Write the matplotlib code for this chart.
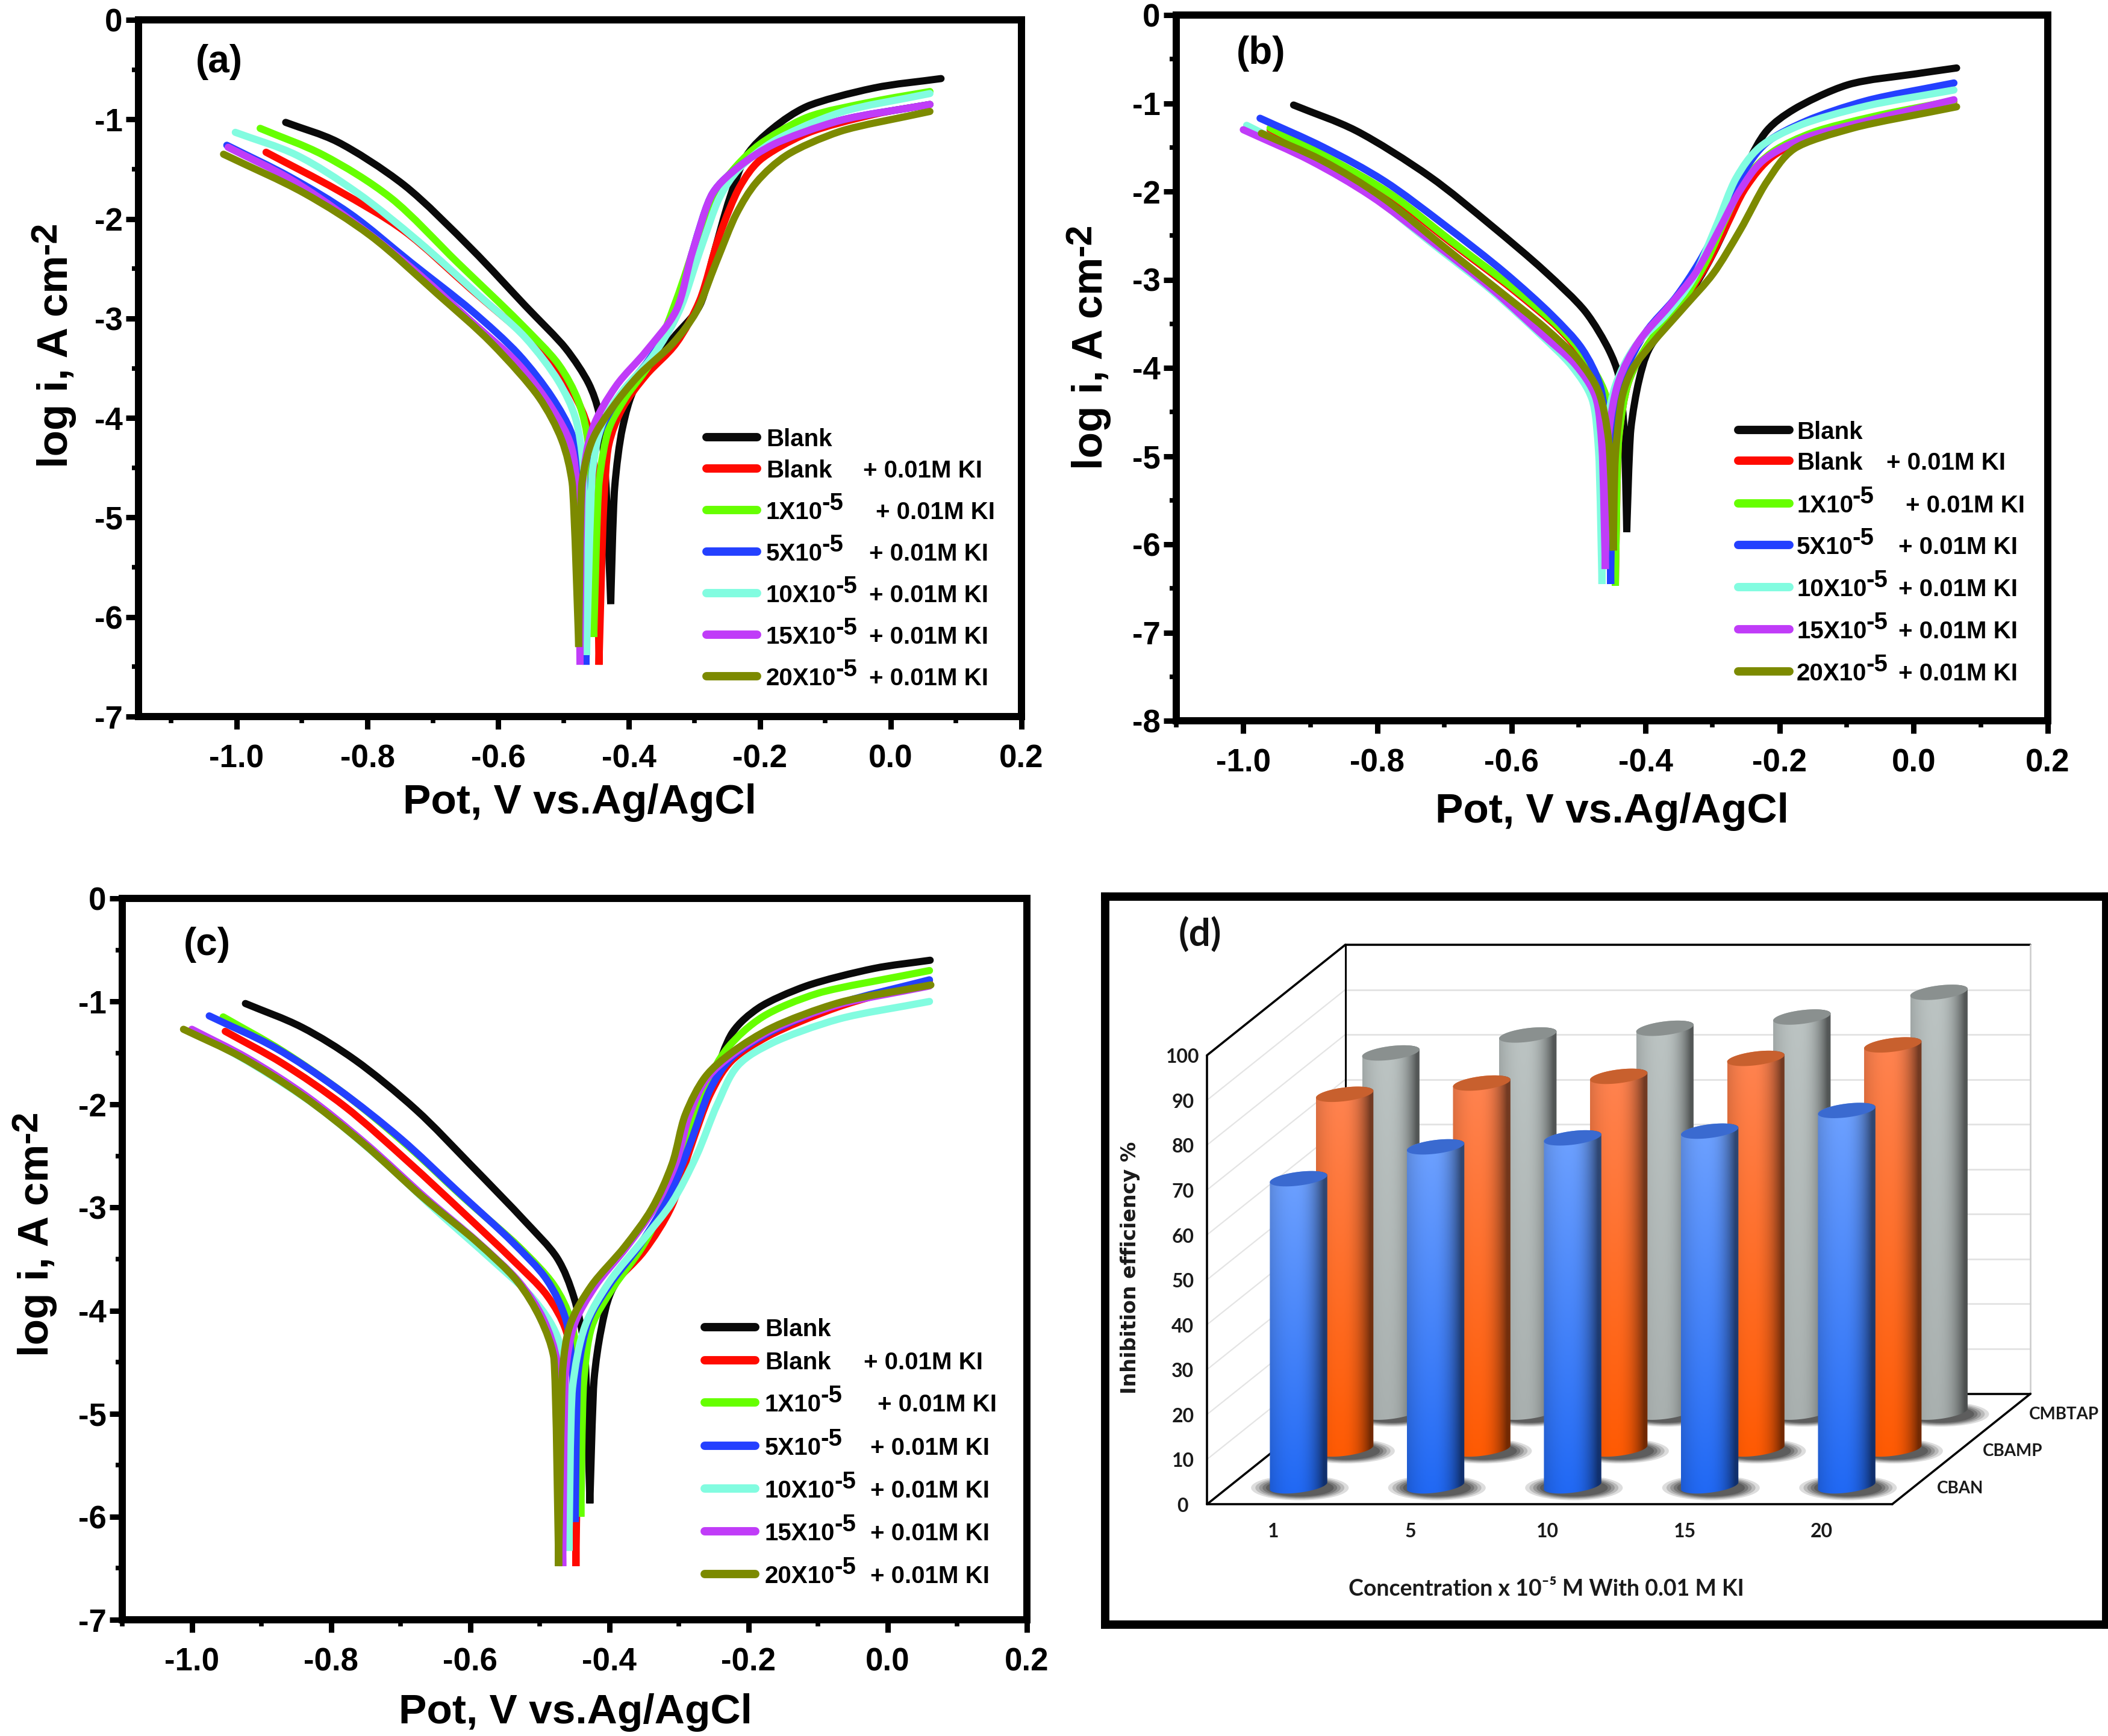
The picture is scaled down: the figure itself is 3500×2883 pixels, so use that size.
# -*- coding: utf-8 -*-
# Tafel polarisation plots (a)(b)(c) and inhibition efficiency cylinders (d)
import matplotlib
matplotlib.use('Agg')
import matplotlib.pyplot as plt
import matplotlib.patches as mpatches
from matplotlib.lines import Line2D
from matplotlib.path import Path
from matplotlib.ticker import MultipleLocator, FormatStrFormatter
import numpy as np

plt.rcParams['font.family'] = ['Liberation Sans', 'DejaVu Sans']
plt.rcParams['font.weight'] = 'bold'
plt.rcParams['axes.labelweight'] = 'bold'
plt.rcParams['axes.unicode_minus'] = False

W, H = 3500, 2883
COLORS = ['#0a0a0a', '#ff0a00', '#66ff00', '#2440ff', '#82fce0', '#c03cf8', '#7c8a00']

# panel (a)
a_black_x = [-.925, -.846, -.744, -.641, -.559, -.497, -.462, -.446, -.436, -.428, -.422, -.41, -.39, -.333, -.292, -.272, -.246, -.22, -.18, -.128, -.026, .077]
a_black_y = [-1.03, -1.225, -1.66, -2.3, -2.87, -3.3, -3.65, -3.95, -4.6, -5.87, -4.7, -4.1, -3.68, -3.2, -2.87, -2.39, -1.79, -1.36, -1.09, -.87, -.685, -.59]
a_red_x = [-.955, -.846, -.744, -.641, -.538, -.487, -.462, -.451, -.446, -.439, -.431, -.41, -.374, -.328, -.292, -.262, -.231, -.2, -.128, -.026, .06]
a_red_y = [-1.33, -1.71, -2.12, -2.71, -3.3, -3.73, -4.11, -4.65, -6.48, -4.92, -4.27, -3.9, -3.57, -3.25, -2.82, -2.17, -1.68, -1.41, -1.14, -.95, -.85]
a_green_x = [-.964, -.867, -.764, -.662, -.569, -.508, -.477, -.462, -.454, -.446, -.431, -.405, -.364, -.328, -.297, -.272, -.236, -.2, -.128, -.026, .06]
a_green_y = [-1.09, -1.36, -1.79, -2.44, -3.03, -3.46, -3.84, -4.27, -6.2, -4.65, -4.11, -3.79, -3.41, -2.82, -2.22, -1.79, -1.47, -1.25, -.98, -.82, -.72]
a_blue_x = [-1.015, -.918, -.826, -.733, -.641, -.569, -.518, -.487, -.472, -.466, -.458, -.446, -.415, -.369, -.328, -.303, -.272, -.231, -.179, -.077, .06]
a_blue_y = [-1.26, -1.58, -1.95, -2.44, -2.92, -3.36, -3.79, -4.17, -4.65, -6.48, -4.65, -4.17, -3.79, -3.41, -2.98, -2.33, -1.74, -1.47, -1.25, -1.01, -.85]
a_cyan_x = [-1.002, -.908, -.815, -.723, -.631, -.559, -.508, -.482, -.47, -.465, -.456, -.441, -.41, -.364, -.323, -.292, -.262, -.231, -.179, -.077, .06]
a_cyan_y = [-1.13, -1.36, -1.74, -2.22, -2.76, -3.19, -3.63, -4.0, -4.49, -6.38, -4.54, -4.06, -3.73, -3.38, -2.92, -2.33, -1.79, -1.49, -1.22, -.93, -.74]
a_purple_x = [-1.013, -.918, -.826, -.733, -.641, -.569, -.518, -.489, -.479, -.475, -.471, -.456, -.42, -.374, -.328, -.303, -.272, -.231, -.179, -.077, .06]
a_purple_y = [-1.28, -1.6, -2.01, -2.49, -3.03, -3.46, -3.9, -4.27, -4.76, -6.48, -4.65, -4.11, -3.68, -3.33, -2.92, -2.33, -1.74, -1.47, -1.25, -1.01, -.85]
a_olive_x = [-1.02, -.897, -.795, -.692, -.61, -.538, -.503, -.487, -.477, -.472, -.456, -.426, -.385, -.333, -.297, -.267, -.236, -.205, -.159, -.077, .06]
a_olive_y = [-1.35, -1.74, -2.17, -2.76, -3.25, -3.79, -4.22, -4.65, -6.3, -4.65, -4.22, -3.9, -3.57, -3.25, -2.93, -2.44, -1.95, -1.63, -1.36, -1.12, -.92]

# panel (b)
b_black_x = [-.925, -.832, -.722, -.631, -.551, -.49, -.455, -.44, -.432, -.428, -.422, -.41, -.395, -.36, -.32, -.279, -.249, -.219, -.179, -.098, 0, .064]
b_black_y = [-1.02, -1.31, -1.83, -2.38, -2.9, -3.36, -3.79, -4.09, -4.7, -5.86, -4.7, -4.15, -3.79, -3.42, -2.99, -2.38, -1.71, -1.31, -1.07, -.79, -.67, -.6]
b_red_x = [-.96, -.87, -.78, -.69, -.6, -.53, -.49, -.46, -.45, -.445, -.44, -.425, -.395, -.35, -.31, -.28, -.25, -.21, -.15, -.06, .06]
b_red_y = [-1.3, -1.65, -2.05, -2.58, -3.1, -3.55, -3.9, -4.3, -4.9, -6.47, -4.8, -4.15, -3.72, -3.3, -2.85, -2.4, -1.95, -1.6, -1.38, -1.18, -.98]
b_green_x = [-.96, -.87, -.78, -.69, -.6, -.53, -.49, -.46, -.45, -.445, -.44, -.425, -.395, -.35, -.31, -.28, -.25, -.21, -.15, -.06, .06]
b_green_y = [-1.28, -1.63, -2.03, -2.56, -3.08, -3.53, -3.88, -4.3, -4.9, -6.47, -4.8, -4.15, -3.72, -3.3, -2.8, -2.3, -1.85, -1.55, -1.33, -1.15, -.97]
b_blue_x = [-.975, -.88, -.79, -.7, -.61, -.54, -.495, -.468, -.457, -.452, -.447, -.43, -.4, -.355, -.32, -.285, -.255, -.22, -.16, -.07, .06]
b_blue_y = [-1.17, -1.5, -1.88, -2.38, -2.92, -3.4, -3.78, -4.2, -4.8, -6.45, -4.7, -4.05, -3.6, -3.2, -2.8, -2.3, -1.8, -1.45, -1.2, -.97, -.77]
b_cyan_x = [-.995, -.9, -.81, -.72, -.63, -.56, -.51, -.48, -.47, -.465, -.46, -.445, -.415, -.37, -.33, -.295, -.265, -.23, -.17, -.07, .06]
b_cyan_y = [-1.25, -1.62, -2.04, -2.58, -3.12, -3.6, -3.98, -4.35, -4.95, -6.45, -4.8, -4.2, -3.75, -3.4, -3.0, -2.4, -1.85, -1.5, -1.25, -1.03, -.85]
b_purple_x = [-1.0, -.9, -.81, -.72, -.63, -.56, -.505, -.475, -.465, -.46, -.455, -.44, -.41, -.365, -.325, -.29, -.26, -.225, -.165, -.07, .06]
b_purple_y = [-1.3, -1.65, -2.05, -2.56, -3.1, -3.58, -3.96, -4.32, -4.9, -6.28, -4.75, -4.15, -3.7, -3.3, -2.92, -2.43, -2.0, -1.65, -1.4, -1.2, -.96]
b_olive_x = [-.973, -.882, -.792, -.702, -.621, -.551, -.5, -.47, -.455, -.448, -.445, -.435, -.42, -.39, -.34, -.299, -.259, -.219, -.179, -.09, .064]
b_olive_y = [-1.34, -1.65, -2.07, -2.62, -3.11, -3.54, -3.91, -4.27, -4.82, -6.07, -5.0, -4.33, -4.02, -3.72, -3.29, -2.93, -2.44, -1.89, -1.52, -1.28, -1.04]

# panel (c)
c_black_x = [-.923, -.842, -.765, -.678, -.6, -.523, -.475, -.451, -.436, -.428, -.422, -.412, -.397, -.349, -.31, -.281, -.252, -.223, -.185, -.117, -.02, .061]
c_black_y = [-1.02, -1.25, -1.57, -2.05, -2.58, -3.12, -3.49, -3.87, -4.35, -5.87, -4.67, -4.19, -3.81, -3.33, -2.96, -2.32, -1.78, -1.3, -1.06, -.85, -.68, -.6]
c_red_x = [-.952, -.87, -.78, -.69, -.61, -.54, -.49, -.462, -.452, -.448, -.443, -.428, -.395, -.35, -.31, -.285, -.255, -.225, -.17, -.07, .06]
c_red_y = [-1.29, -1.6, -2.02, -2.55, -3.05, -3.5, -3.85, -4.2, -4.7, -6.48, -4.7, -4.1, -3.75, -3.42, -2.98, -2.45, -1.9, -1.58, -1.33, -1.05, -.8]
c_green_x = [-.955, -.87, -.78, -.69, -.61, -.53, -.48, -.455, -.445, -.441, -.437, -.425, -.395, -.35, -.315, -.285, -.26, -.23, -.18, -.1, .06]
c_green_y = [-1.15, -1.48, -1.9, -2.4, -2.9, -3.38, -3.75, -4.1, -4.6, -6.0, -4.7, -4.15, -3.78, -3.35, -2.85, -2.25, -1.8, -1.45, -1.15, -.92, -.7]
c_blue_x = [-.975, -.88, -.79, -.7, -.62, -.54, -.49, -.462, -.453, -.449, -.445, -.43, -.4, -.355, -.315, -.285, -.255, -.225, -.17, -.07, .06]
c_blue_y = [-1.14, -1.45, -1.85, -2.33, -2.83, -3.33, -3.7, -4.1, -4.6, -6.05, -4.6, -4.1, -3.75, -3.35, -2.9, -2.4, -1.85, -1.55, -1.3, -1.02, -.79]
c_cyan_x = [-1.0, -.91, -.82, -.73, -.65, -.57, -.51, -.475, -.462, -.458, -.453, -.435, -.4, -.35, -.31, -.275, -.245, -.215, -.165, -.07, .06]
c_cyan_y = [-1.28, -1.62, -2.02, -2.52, -3.02, -3.5, -3.88, -4.25, -4.8, -6.33, -4.75, -4.15, -3.72, -3.3, -2.95, -2.5, -2.0, -1.62, -1.4, -1.17, -1.0]
c_purple_x = [-1.0, -.92, -.835, -.75, -.665, -.59, -.53, -.495, -.475, -.467, -.463, -.45, -.42, -.375, -.335, -.305, -.285, -.26, -.22, -.165, -.07, .06]
c_purple_y = [-1.27, -1.55, -1.92, -2.38, -2.9, -3.33, -3.72, -4.08, -4.5, -6.48, -4.6, -4.13, -3.76, -3.38, -3.0, -2.58, -2.1, -1.75, -1.5, -1.27, -1.03, -.85]
c_olive_x = [-1.012, -.929, -.842, -.755, -.668, -.591, -.533, -.499, -.48, -.473, -.467, -.456, -.426, -.378, -.339, -.31, -.291, -.262, -.223, -.165, -.069, .062]
c_olive_y = [-1.27, -1.54, -1.91, -2.37, -2.9, -3.33, -3.71, -4.08, -4.45, -6.48, -4.56, -4.13, -3.76, -3.38, -3.01, -2.58, -2.1, -1.73, -1.49, -1.25, -1.01, -.84]

# panel (d)
conc_labels = ['1', '5', '10', '15', '20']
cban = [68.4, 75.5, 77.5, 79, 83.6]
cbamp = [79, 81.5, 83, 87, 90]
cmbtap = [80, 84, 85.5, 88, 93.5]
row_labels = ['CBAN', 'CBAMP', 'CMBTAP']

legend_names = ['Blank', 'Blank', '1X10', '5X10', '10X10', '15X10', '20X10']
legend_sups = [None, None, '-5', '-5', '-5', '-5', '-5']
legend_suffix = '+ 0.01M KI'

fig = plt.figure(figsize=(W / 100, H / 100), dpi=100, facecolor='white')


def make_axes(l, r, t, b):
    return fig.add_axes([l / W, 1 - b / H, (r - l) / W, (b - t) / H])


def put_text(x, y, s, **kw):
    return fig.text(x / W, 1 - y / H, s, **kw)


def smooth_path(xs, ys, xr, yr):
    # bezier through the read points; the spike tip stays a hard corner
    p = np.c_[np.array(xs) / xr, np.array(ys) / yr]
    d = p[1:] - p[:-1]
    seg = np.hypot(d[:, 0], d[:, 1])
    tang = np.zeros_like(p)
    tang[0], tang[-1] = d[0] / seg[0], d[-1] / seg[-1]
    hand = np.zeros(len(p))
    hand[0], hand[-1] = seg[0] / 3, seg[-1] / 3
    for i in range(1, len(p) - 1):
        if np.dot(d[i - 1], d[i]) <= 0:
            continue
        t = d[i - 1] / seg[i - 1] + d[i] / seg[i]
        tang[i] = t / np.hypot(*t)
        hand[i] = min(seg[i - 1], seg[i]) / 3
    verts, codes = [p[0]], [Path.MOVETO]
    for i in range(len(seg)):
        verts += [p[i] + tang[i] * hand[i], p[i + 1] - tang[i + 1] * hand[i + 1], p[i + 1]]
        codes += [Path.CURVE4] * 3
    return Path(np.array(verts) * [xr, yr], codes)


def tafel_panel(box, xlim, ylim, series, tag, tag_xy, xlab_xy, ylab_xy, leg):
    ax = make_axes(*box)
    xr = (xlim[1] - xlim[0]) / (box[1] - box[0])
    yr = (ylim[1] - ylim[0]) / (box[3] - box[2])
    for (xs, ys), c in zip(series, COLORS):
        ax.add_patch(mpatches.PathPatch(smooth_path(xs, ys, xr, yr), fill=False, ec=c, lw=8.6,
                                        capstyle='round', joinstyle='miter'))
    ax.set_xlim(*xlim)
    ax.set_ylim(*ylim)
    ax.xaxis.set_major_locator(MultipleLocator(0.2))
    ax.xaxis.set_minor_locator(MultipleLocator(0.1))
    ax.yaxis.set_major_locator(MultipleLocator(1))
    ax.yaxis.set_minor_locator(MultipleLocator(0.5))
    ax.xaxis.set_major_formatter(FormatStrFormatter('%.1f'))
    ax.yaxis.set_major_formatter(FormatStrFormatter('%d'))
    ax.tick_params(which='major', length=15, width=6.5, labelsize=38, pad=18)
    ax.tick_params(axis='y', which='major', pad=4)
    ax.tick_params(which='minor', length=8, width=5.5)
    for s in ax.spines.values():
        s.set_linewidth(8.6)
    ax.set_xlabel('Pot, V vs.Ag/AgCl', fontsize=50)
    ax.xaxis.set_label_coords(xlab_xy[0] / W, 1 - xlab_xy[1] / H, transform=fig.transFigure)
    ax.xaxis.label.set_va('center')
    ax.set_ylabel('log i, A cm', fontsize=51)
    ax.yaxis.set_label_coords(ylab_xy[0] / W, 1 - ylab_xy[1] / H, transform=fig.transFigure)
    ax.yaxis.label.set_va('center')
    ax.annotate('-2', xy=(0, 1), xycoords=ax.yaxis.label, xytext=(-9, 1), textcoords='offset points',
                rotation=90, fontsize=44, ha='left', va='bottom', annotation_clip=False)
    put_text(tag_xy[0], tag_xy[1], tag, fontsize=46, ha='center', va='center')
    # legend, laid out by hand because the rows are uneven
    lx0, lx1, tx, ys, plus = leg
    for i, (name, sup, y, c) in enumerate(zip(legend_names, legend_sups, ys, COLORS)):
        fig.add_artist(Line2D([(lx0 + 7) / W, (lx1 - 7) / W], [1 - y / H, 1 - y / H], color=c, lw=10,
                              solid_capstyle='round'))
        base = put_text(tx, y + 15, name, fontsize=29, ha='left', va='baseline')
        if sup:
            ax.annotate(sup, xy=(1, 0), xycoords=base, xytext=(-1, 11), textcoords='offset points',
                        fontsize=29, ha='left', va='bottom', annotation_clip=False)
        if i > 0:
            put_text(plus[i - 1], y + 15, legend_suffix, fontsize=29, ha='left', va='baseline')
    return ax


tafel_panel((230, 1696, 33, 1190), (-1.15, 0.2), (-7, 0),
            [(a_black_x, a_black_y), (a_red_x, a_red_y), (a_green_x, a_green_y), (a_blue_x, a_blue_y),
             (a_cyan_x, a_cyan_y), (a_purple_x, a_purple_y), (a_olive_x, a_olive_y)],
            '(a)', (364, 103), (962, 1333), (94, 600),
            (1166, 1264, 1272, [726, 778, 847, 916, 985, 1054, 1123],
             [1433, 1454, 1443, 1443, 1443, 1443]))

tafel_panel((1953, 3400, 25, 1197), (-1.1, 0.2), (-8, 0),
            [(b_black_x, b_black_y), (b_red_x, b_red_y), (b_green_x, b_green_y), (b_blue_x, b_blue_y),
             (b_cyan_x, b_cyan_y), (b_purple_x, b_purple_y), (b_olive_x, b_olive_y)],
            '(b)', (2094, 89), (2676, 1348), (1812, 603),
            (2879, 2978, 2983, [714, 765, 836, 905, 975, 1045, 1115],
             [3132, 3164, 3152, 3152, 3152, 3152]))

tafel_panel((203, 1705, 1492, 2690), (-1.1, 0.2), (-7, 0),
            [(c_black_x, c_black_y), (c_red_x, c_red_y), (c_green_x, c_green_y), (c_blue_x, c_blue_y),
             (c_cyan_x, c_cyan_y), (c_purple_x, c_purple_y), (c_olive_x, c_olive_y)],
            '(c)', (344, 1569), (955, 2844), (62, 2076),
            (1163, 1261, 1270, [2204, 2259, 2329, 2401, 2472, 2543, 2614],
             [1434, 1457, 1445, 1445, 1445, 1445]))

# panel (d): oblique projection of category / depth / value into the axes
axd = make_axes(1835, 3497, 1489, 2698)
axd.set_xlim(32, 1566)
axd.set_ylim(1530, 48)
axd.set_xticks([])
axd.set_yticks([])
for s in axd.spines.values():
    s.set_linewidth(10)

ORG_X, ORG_Y = 188, 1285
CAT_W = 210
DEPTH_X, DEPTH_Y = 212, -225
VAL_Y = -9.14


def proj(cat, depth, val):
    return ORG_X + cat * CAT_W + depth * DEPTH_X, ORG_Y + depth * DEPTH_Y + val * VAL_Y


def dline(p, q, color='black', lw=2.2, z=1):
    axd.plot([p[0], q[0]], [p[1], q[1]], color=color, lw=lw, zorder=z, solid_capstyle='round')


# walls and floor
for v in range(10, 100, 10):
    dline(proj(0, 0, v), proj(0, 1, v), '#e4e4e4', 1.6)
    dline(proj(0, 1, v), proj(5, 1, v), '#e2e2e2', 2.0)
dline(proj(0, 0, 100), proj(0, 1, 100), 'black', 2.6)
dline(proj(0, 1, 100), proj(5, 1, 100), 'black', 2.6)
dline(proj(0, 1, 0), proj(0, 1, 100), 'black', 2.2)
dline(proj(5, 1, 0), proj(5, 1, 100), '#cfcfcf', 2.0)
dline(proj(0, 0, 0), proj(0, 0, 100), 'black', 2.6)
dline(proj(0, 0, 0), proj(5, 0, 0), 'black', 2.6, 6)
dline(proj(0, 0, 0), proj(0, 1, 0), 'black', 2.6)
dline(proj(0, 1, 0), proj(5, 1, 0), 'black', 2.6)
dline(proj(5, 0, 0), proj(5, 1, 0), 'black', 2.6, 6)

BODY = {
    'blue': ('#6fa2ff', '#2068f4', '#3a6ad0'),
    'orange': ('#ff8452', '#ff5a02', '#c8602e'),
    'gray': ('#bcc4c3', '#a9b0af', '#8a908f'),
}


def hex_rgb(h):
    return np.array(matplotlib.colors.to_rgb(h))


def cylinder(cat, depth, val, kind, z):
    RX, RY, TILT = 44, 14, 0.16
    top, bottom, cap = BODY[kind]
    cx, cy0 = proj(cat, depth, 0)
    _, cy1 = proj(cat, depth, val)
    # soft floor shadow
    for sx, alpha in zip([1.7, 1.55, 1.42, 1.3, 1.18], [.16, .2, .25, .3, .36]):
        axd.add_patch(mpatches.Ellipse((cx + 2, cy0 + 4), 2 * RX * sx, 2 * (RY + 1) * sx,
                                       fc='#303030', ec='none', alpha=alpha, zorder=z))
    t = np.linspace(0, np.pi, 40)
    low = np.c_[cx + RX * np.cos(t), cy0 + RY * np.sin(t) - TILT * RX * np.cos(t)]
    t2 = np.linspace(np.pi, 2 * np.pi, 40)
    upp = np.c_[cx + RX * np.cos(t2), cy1 + RY * np.sin(t2) - TILT * RX * np.cos(t2)]
    outline = np.r_[low, upp]
    # shading: light band left of centre, dark towards both sides
    u = np.linspace(0, 1, 80)
    shade = 1 - 0.8 * np.abs(u - 0.42) ** 2 * (u < 0.42) - 2.6 * np.clip(u - 0.42, 0, 1) ** 2.4
    shade = np.clip(shade, 0.45, 1)
    v = np.linspace(0, 1, 120)[:, None, None]
    rgb = hex_rgb(top)[None, None, :] * (1 - v) + hex_rgb(bottom)[None, None, :] * v
    img = np.clip(rgb * shade[None, :, None], 0, 1)
    im = axd.imshow(img, extent=(cx - RX, cx + RX, cy0 + RY + 8, cy1 - RY - 8), origin='upper',
                    aspect='auto', zorder=z + 1, interpolation='bilinear')
    clip = mpatches.Polygon(outline, closed=True, transform=axd.transData)
    im.set_clip_path(clip)
    t3 = np.linspace(0, 2 * np.pi, 60)
    axd.fill(cx + RX * np.cos(t3), cy1 + RY * np.sin(t3) - TILT * RX * np.cos(t3), color=cap, lw=0, zorder=z + 2)


for depth, vals, kind, z in [(5 / 6, cmbtap, 'gray', 3), (1 / 2, cbamp, 'orange', 7), (1 / 6, cban, 'blue', 11)]:
    for i, val in enumerate(vals):
        cylinder(i + 0.5, depth, val, kind, z)

axd.set_xlim(32, 1566)
axd.set_ylim(1530, 48)

TICK_COL = '#1a1a1a'
LATO = ['Lato', 'DejaVu Sans']
for v in range(0, 101, 10):
    x, y = proj(0, 0, v)
    axd.text(x - 37, y + 4, str(v), fontsize=23, ha='center', va='center', color=TICK_COL,
             family=LATO, fontweight='bold')
for i, lab in enumerate(conc_labels):
    x, y = proj(i + 0.5, 0, 0)
    axd.text(x - 3, y + 55, lab, fontsize=23, ha='center', va='center', color=TICK_COL,
             family=LATO, fontweight='bold')
for (d, lab) in zip([1 / 6, 1 / 2, 5 / 6], row_labels):
    x, y = proj(5, d, 0)
    axd.text(x + 33, y + 5, lab, fontsize=20, ha='left', va='center', color=TICK_COL,
             family=LATO, fontweight='bold')
axd.text(70, 803, 'Inhibition efficiency %', rotation=90, fontsize=24, ha='center', va='center',
         color=TICK_COL, family=['DejaVu Sans'], fontweight='bold')
axd.text(708, 1458, 'Concentration x 10⁻⁵ M With 0.01 M KI', fontsize=27, ha='center', va='center',
         color=TICK_COL, family=LATO, fontweight='bold')
axd.text(177, 124, '(d)', fontsize=46, ha='center', va='center', color='#111111',
         family=LATO, fontweight='bold')

fig.savefig('out.png', dpi=100, facecolor='white')
